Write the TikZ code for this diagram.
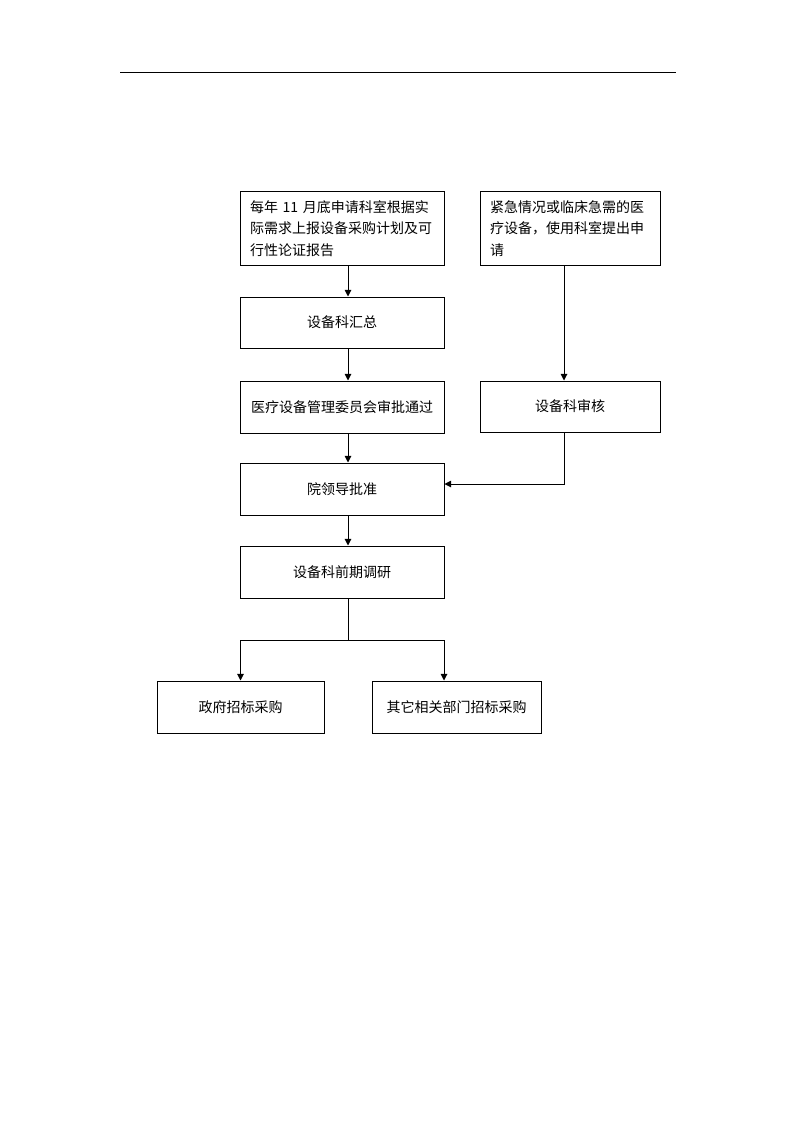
\documentclass[tikz,border=0pt]{standalone}
\usepackage{fontspec}
\setmainfont{Liberation Serif}
\newfontfamily\cjk{Noto Sans CJK SC}
\usetikzlibrary{arrows.meta,calc}
\tikzset{
  box/.style={draw, line width=0.75pt, font=\cjk\fontsize{10.5}{16}\selectfont, inner sep=0pt, align=center},
  arr/.style={-{Triangle[length=5pt,width=5pt]}, line width=0.75pt},
  conn/.style={line width=0.75pt},
}
\begin{document}
\begin{tikzpicture}[x=0.75pt,y=-0.75pt]
\useasboundingbox (0,0) rectangle (794,1123);
\fill[white] (0,0) rectangle (794,1123);
\draw[line width=1.1pt] (120,72.5) -- (676,72.5);

\node[box, align=left, text width=138pt, inner xsep=7.5pt, minimum height=54.75pt] (A) at (342,228.5)
  {每年 11 月底申请科室根据实\\际需求上报设备采购计划及可\\行性论证报告};
\node[box, align=left, text width=120pt, inner xsep=7.5pt, minimum height=54.75pt] (B) at (570,228.5)
  {紧急情况或临床急需的医\\疗设备，使用科室提出申\\请};
\node[box, minimum width=153pt, minimum height=38.25pt] (C) at (342,322.5) {设备科汇总};
\node[box, minimum width=153pt, minimum height=39pt] (D) at (342,407) {医疗设备管理委员会审批通过};
\node[box, minimum width=135pt, minimum height=38.25pt] (E) at (570,406.5) {设备科审核};
\node[box, minimum width=153pt, minimum height=39pt] (F) at (342,489) {院领导批准};
\node[box, minimum width=153pt, minimum height=39pt] (G) at (342,572) {设备科前期调研};
\node[box, minimum width=125.25pt, minimum height=39pt] (H) at (240.5,707) {政府招标采购};
\node[box, minimum width=126.75pt, minimum height=39pt] (I) at (456.5,707) {其它相关部门招标采购};

\draw[arr] ([xshift=4.5pt]A.south) -- ([xshift=4.5pt]C.north);
\draw[arr] ([xshift=4.5pt]C.south) -- ([xshift=4.5pt]D.north);
\draw[arr] ([xshift=4.5pt]D.south) -- ([xshift=4.5pt]F.north);
\draw[arr] ([xshift=4.5pt]F.south) -- ([xshift=4.5pt]G.north);
\draw[arr] ([xshift=-4.5pt]B.south) -- ([xshift=-4.5pt]E.north);
\draw[arr] ([xshift=-4.5pt]E.south) |- ([yshift=3.75pt]F.east);

\coordinate (J) at ($(G.south)+(4.5pt,-31.5pt)$);
\draw[conn] ([xshift=4.5pt]G.south) -- (J);
\draw[arr] (J) -| (H.north);
\draw[arr] (J) -| ([xshift=-9.375pt]I.north);
\end{tikzpicture}
\end{document}
